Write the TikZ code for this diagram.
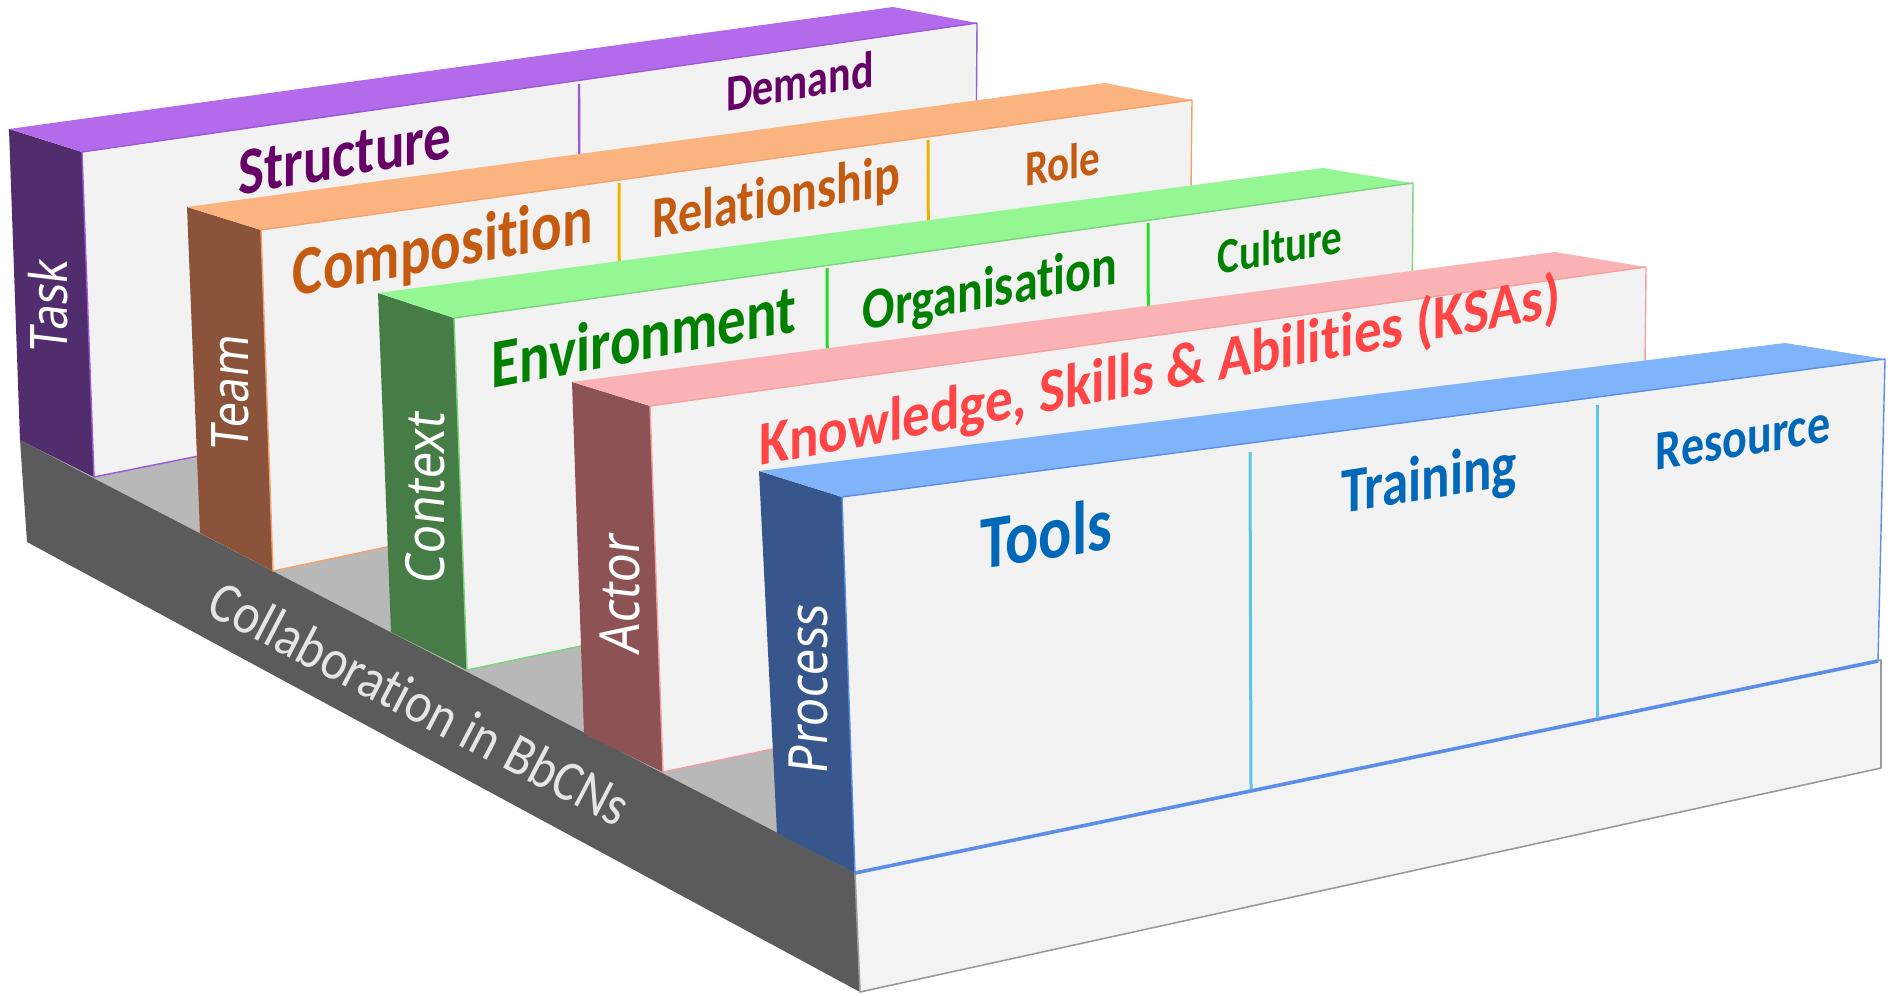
\documentclass[tikz,border=0pt]{standalone}
\usepackage{fontspec}
\setmainfont{Carlito}[Ligatures=NoCommon]
\newfontfamily\sidefont{Noto Sans}
\newcommand\myfs[1]{\fontsize{#1}{#1}\selectfont}
\newcommand\myti{t\kern0pt{}i}
\definecolor{frontc}{HTML}{F2F2F2}
\definecolor{floorc}{HTML}{B8B8B8}
\definecolor{basedark}{HTML}{5B5B5B}
\definecolor{baselight}{HTML}{F3F3F3}
\definecolor{baseedge}{HTML}{9A9A9A}
\definecolor{taskside}{HTML}{522D6E}
\definecolor{tasktop}{HTML}{B36BEB}
\definecolor{taskline}{HTML}{9B59D9}
\definecolor{tasktext}{HTML}{660066}
\definecolor{teamside}{HTML}{8B5339}
\definecolor{teamtop}{HTML}{FBB47F}
\definecolor{teamline}{HTML}{F4A26B}
\definecolor{teamdiv}{HTML}{F2B000}
\definecolor{teamtext}{HTML}{C55A11}
\definecolor{ctxside}{HTML}{467C46}
\definecolor{ctxtop}{HTML}{94F794}
\definecolor{ctxline}{HTML}{7BD37B}
\definecolor{ctxdiv}{HTML}{22DD22}
\definecolor{ctxtext}{HTML}{008000}
\definecolor{actside}{HTML}{8C5254}
\definecolor{acttop}{HTML}{FBB2B4}
\definecolor{actline}{HTML}{F4A0A0}
\definecolor{acttext}{HTML}{FF4545}
\definecolor{procside}{HTML}{37568C}
\definecolor{proctop}{HTML}{7FB4FA}
\definecolor{procline}{HTML}{5C8DE8}
\definecolor{procdiv}{HTML}{5BC5EE}
\definecolor{proctext}{HTML}{0068B8}
\tikzset{
  lbl/.style={inner sep=0pt, yscale=1.22},
  sidelbl/.style={text=white, inner sep=0pt, rotate=90, xslant=0.12, yscale=1.15},
  frontface/.style={fill=frontc, line width=1.4, line join=round},
  divline/.style={line width=3},
}
\begin{document}
\begin{tikzpicture}[x=1pt,y=-1pt]
\useasboundingbox (0,0) rectangle (1901,996);
% floor and base
\fill[floorc] (20,440) -- (855,873) -- (1878,661) -- (977,300) -- cycle;
\fill[basedark] (20,440) -- (855,873) -- (860,992) -- (27,542) -- cycle;
\filldraw[fill=baselight, draw=baseedge, line width=1.6, line join=round] (855,873) -- (1881,660) -- (1881,768) -- (860,992) -- cycle;
\node[text=white!90!black, inner sep=0pt, rotate=-27.5, yscale=1.15, font=\myfs{50}] (collab) at (420,703) {Collabora\myti on in BbCNs};

% ---- Task
\fill[taskside] (9,129) -- (82,152) -- (94,477) -- (20,440) -- cycle;
\fill[tasktop] (9,129) -- (893,7) -- (977,23) -- (82,152) -- cycle;
\filldraw[frontface, draw=taskline] (82,152) -- (977,23) -- (975,300) -- (94,477) -- cycle;
\draw[divline, taskline, line width=2.4] (579,84) -- (580,380);
\node[lbl, text=tasktext, yslant=0.145, font=\bfseries\myfs{55}] (structure) at (345,155) {Structure};
\node[lbl, text=tasktext, yslant=0.14, font=\bfseries\myfs{42}] (demand) at (800,81) {Demand};
\node[sidelbl, font=\sidefont\myfs{45}] (task) at (48,305) {Task};

% ---- Team
\fill[teamside] (187,207) -- (261,230) -- (273,571) -- (200,533) -- cycle;
\fill[teamtop] (187,207) -- (1105,83) -- (1192,100) -- (261,230) -- cycle;
\filldraw[frontface, draw=teamline] (261,230) -- (1192,100) -- (1189,378) -- (273,571) -- cycle;
\draw[divline, teamdiv] (619,183) -- (620,498);
\draw[divline, teamdiv] (928,140) -- (929,431);
\node[lbl, text=teamtext, yslant=0.15, font=\bfseries\myfs{57}] (composition) at (443,250) {Composi\myti on};
\node[lbl, text=teamtext, yslant=0.15, font=\bfseries\myfs{48}] (relationship) at (776,200) {Rela\myti onship};
\node[lbl, text=teamtext, yslant=0.14, font=\bfseries\myfs{41}] (role) at (1063,163) {Role};
\node[sidelbl, font=\sidefont\myfs{45}] (team) at (230,392) {Team};

% ---- Context
\fill[ctxside] (378,293) -- (454,318) -- (467,670) -- (391,632) -- cycle;
\fill[ctxtop] (378,293) -- (1323,168) -- (1413,183) -- (454,318) -- cycle;
\filldraw[frontface, draw=ctxline] (454,318) -- (1413,183) -- (1411,471) -- (467,670) -- cycle;
\draw[divline, ctxdiv] (827,268) -- (828,591);
\draw[divline, ctxdiv] (1148,223) -- (1149,524);
\node[lbl, text=ctxtext, yslant=0.155, font=\bfseries\myfs{57}] (environment) at (644,336) {Environment};
\node[lbl, text=ctxtext, yslant=0.15, font=\bfseries\myfs{48}] (organisation) at (990,292) {Organisa\myti on};
\node[lbl, text=ctxtext, yslant=0.14, font=\bfseries\myfs{41}] (culture) at (1280,246) {Culture};
\node[sidelbl, font=\sidefont\myfs{47}] (context) at (425,497) {Context};

% ---- Actor
\fill[actside] (572,382) -- (650,406) -- (663,772) -- (584,734) -- cycle;
\fill[acttop] (572,382) -- (1555,252) -- (1646,267) -- (650,406) -- cycle;
\filldraw[frontface, draw=actline] (650,406) -- (1646,267) -- (1643,566) -- (663,772) -- cycle;
\node[lbl, text=acttext, yslant=0.153, yscale=0.93, font=\bfseries\myfs{55}] (ksa) at (1160,373) {Knowledge, Skills \& Abili\myti es (KSAs)};
\node[sidelbl, font=\sidefont\myfs{48}] (actor) at (620,593) {Actor};

% ---- Process
\fill[procside] (759,471) -- (842,497) -- (855,873) -- (777,833) -- cycle;
\fill[proctop] (759,471) -- (1785,343) -- (1885,359) -- (842,497) -- cycle;
\filldraw[frontface, draw=procline] (842,497) -- (1885,359) -- (1878,661) -- (855,873) -- cycle;
\draw[procline, line width=3.6] (855,873) -- (1878,661);
\draw[divline, procdiv] (1250,452) -- (1251,789);
\draw[divline, procdiv] (1597,405) -- (1597,718);
\node[lbl, text=proctext, yslant=0.13, font=\bfseries\myfs{62}] (tools) at (1046,533) {Tools};
\node[lbl, text=proctext, yslant=0.13, font=\bfseries\myfs{53}] (training) at (1429,482) {Training};
\node[lbl, text=proctext, yslant=0.14, font=\bfseries\myfs{46}] (resource) at (1743,438) {Resource};
\node[sidelbl, font=\sidefont\myfs{47}] (process) at (808,688) {Process};
\end{tikzpicture}
\end{document}
